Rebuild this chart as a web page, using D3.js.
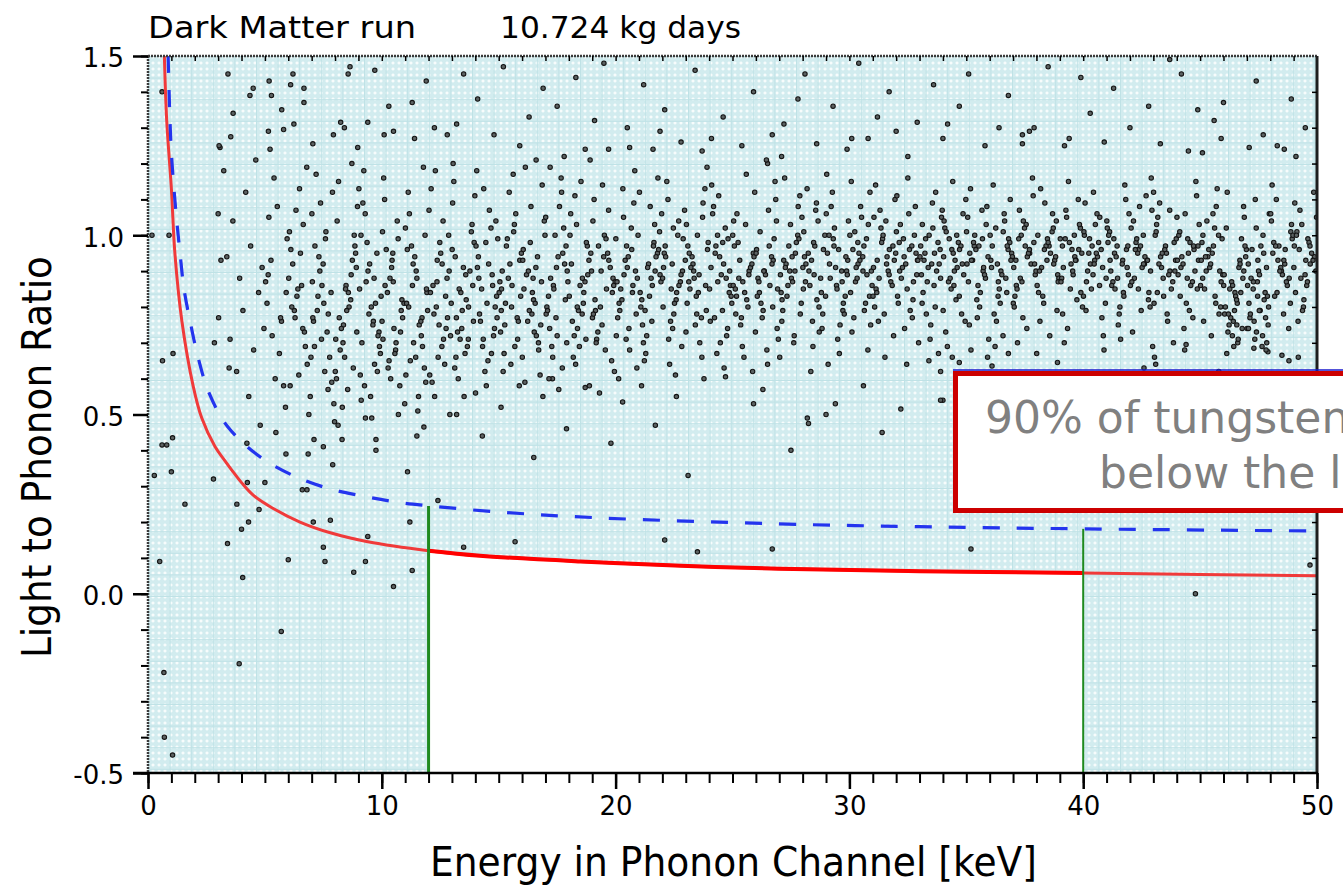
<!DOCTYPE html>
<html>
<head>
<meta charset="utf-8">
<script src="https://cdn.jsdelivr.net/npm/d3@7"></script>
<style>
  body { margin: 0; background: #fff; overflow: hidden; }
  svg text { font-family: "Comic Sans MS", "DejaVu Sans", sans-serif; }
</style>
</head>
<body>
<div id="chart"></div>
<script>
// axis ticks
const xTicks = [0, 10, 20, 30, 40, 50];
const yTicks = [-0.5, 0, 0.5, 1.0, 1.5];
const titleLeft = "Dark Matter run";
const titleRight = "10.724 kg days";
const noteLines = ["90% of tungsten recoils", "below the line"];

// 90% tungsten recoil line (red) and the upper dashed line (blue)
const redCurve = [[0.7,1.5],[0.8,1.32],[1.0,1.13],[1.15,0.95],[1.45,0.76],[1.93,0.58],[2.3,0.49],[2.87,0.41],[3.3,0.37],[3.64,0.34],[4.0,0.31],[4.5,0.275],[5.3,0.24],[6.5,0.2],[7.8,0.17],[9.4,0.145],[12,0.12],[14.2,0.106],[18.5,0.09],[22.8,0.078],[27,0.07],[33,0.063],[40,0.058],[45,0.054],[50,0.05]];
const blueCurve = [[0.86,1.5],[0.94,1.32],[1.0,1.23],[1.11,1.13],[1.23,1.04],[1.37,0.95],[1.54,0.85],[1.8,0.76],[2.14,0.66],[2.61,0.56],[3.42,0.465],[4.79,0.382],[6.2,0.33],[7.65,0.295],[9.15,0.273],[10.6,0.256],[12.06,0.245],[15,0.228],[19.2,0.212],[26.9,0.195],[33,0.187],[40,0.181],[50,0.175]];
// acceptance window (green lines)
const cutEnergies = [12, 40];
const cutTops = [0.245, 0.181];

// events: outliers
const ptsOutside = [[0.27,.33],[0.6,.415],[1.05,.435],[1.0,.34],[1.58,.25],[0.5,.09],[0.62,.65],[1.07,.67],[0.8,.415],[3.4,.14],[4.05,.045],[2.8,.32],[3.8,.25],[4.3,.2],[4.0,.18],[4.25,.31],[4.75,.235],[5.0,.31],[6.0,.095],[7.07,.2],[7.8,.205],[7.5,.13],[7.57,.09],[8.8,.06],[9.3,.09],[9.4,.16],[10.5,.02],[11.3,.065],[11.2,.2],[11.1,.34],[12.4,.26],[0.68,-.22],[0.7,-.4],[1.05,-.45],[3.9,-.195],[5.7,-.105],[13.5,.13],[15.7,.145],[22.1,.15],[23.5,.117],[26.7,.125],[35.2,.125],[44.8,0],[49.7,.08],[5.9,.39],[6.85,.39],[7.5,.41],[7.9,.36],[9.3,.49],[9.75,.43],[11.8,.465],[11.5,.44],[8.3,.43],[7.1,.43],[6.6,.29],[6.8,.29],[9.75,.4],[28.2,.49],[28.25,.475],[29.0,.5],[29.4,.53],[32.2,.515],[34.0,.54],[20.3,.535],[25.9,.53],[26.3,.57],[18.7,.575],[24.7,.605],[17.3,.6],[34.4,.66],[34.7,.645],[36.1,.635],[38.9,.645],[42.6,.63],[36.8,.67],[35.2,.68],[48.5,.665],[48.8,.65],[47.9,.675],[44.4,.695],[47.3,.685],[33.4,.65],[33.9,.62],[33.9,.54],[0.17,1.0],[0.9,1.0],[16.5,.38],[19.8,.42],[23.1,.33],[27.5,.4],[31.4,.45],[14.3,.44],[21.7,.47],[13.2,.5],[15.1,.52],[17.9,.46],[22.6,.55],[30.6,.58],[37.5,.6],[40.6,.61],[43.1,.64],[45.8,.62],[49.2,.66]];
const ptsHigh = [[0.6,1.4],[3.42,1.45],[6.2,1.45],[8.56,1.45],[8.64,1.47],[4.5,1.41],[5.18,1.43],[6.1,1.42],[6.67,1.41],[4.36,1.39],[5.28,1.39],[6.67,1.37],[5.72,1.35],[3.64,1.34],[11.3,1.37],[5.15,1.29],[5.8,1.295],[6.24,1.31],[8.24,1.315],[8.4,1.3],[9.4,1.315],[7.93,1.28],[10.1,1.28],[10.5,1.29],[12.25,1.3],[3.54,1.275],[11.4,1.27],[3.08,1.245],[7.05,1.255],[8.97,1.245],[12.8,1.28],[34.7,1.36],[40.3,1.34],[46.0,1.37],[34.2,1.31],[34.0,1.27],[36.4,1.3],[37.4,1.28],[37.7,1.29],[37.9,1.3],[42.0,1.3],[35.8,1.25],[37.4,1.255],[39.2,1.25],[39.4,1.27],[47.7,1.28],[43.3,1.255],[48.6,1.24],[48.3,1.25],[44.5,1.235],[45.1,1.23],[47.1,1.245],[20.5,1.3],[27.2,1.31],[32.9,1.315],[32.0,1.29],[28.6,1.255],[22.8,1.26],[25.4,1.25],[18.7,1.24],[19.7,1.24],[20.6,1.245],[23.7,1.235],[21.6,1.24],[17.2,1.19],[17.8,1.22],[30.1,1.27],[30.8,1.27],[32.5,1.22],[27.1,1.22],[26.5,1.2],[13.5,1.45],[14.1,1.38],[15.2,1.47],[16.3,1.33],[16.9,1.41],[14.8,1.28],[15.9,1.25],[13.2,1.31],[17.5,1.36],[18.3,1.44],[19.1,1.32],[21.2,1.42],[22.1,1.35],[23.4,1.46],[24.6,1.33],[25.9,1.4],[26.7,1.28],[28.1,1.45],[29.3,1.36],[30.4,1.48],[31.2,1.33],[33.6,1.42],[35.1,1.45],[36.8,1.39],[38.5,1.47],[41.3,1.41],[42.8,1.36],[44.2,1.45],[45.6,1.32],[47.4,1.43],[48.9,1.38],[49.5,1.3],[43.7,1.49],[39.9,1.44],[11.9,1.43],[10.3,1.36],[9.7,1.46],[24.1,1.27],[29.9,1.24],[31.7,1.4],[40.9,1.26],[45.9,1.27],[49.1,1.22],[44.9,1.35],[19.5,1.48],[16.6,1.21],[21.9,1.29],[27.8,1.38]];

// events: main band, by energy range
const pts3to8 = [[3.12,.93],[3.51,.71],[3.63,1.04],[3.79,.62],[3.92,.88],[3.04,1.25],[3.24,1.18],[3.0,1.06],[3.02,.77],[2.84,.7],[3.37,.94],[3.47,.63],
[4.06,.79],[4.18,1.12],[4.31,.55],[4.39,.97],[4.52,.68],[4.61,1.21],[4.73,.84],[4.8,.47],[4.88,.91],[4.96,.74],[4.23,.42],
[5.03,.87],[5.44,.6],[5.17,1.05],[5.71,.76],[5.26,.93],[5.88,.52],[5.39,1.16],[5.09,.81],[5.62,.67],[5.95,.99],[5.31,.72],[5.53,1.08],[5.8,.58],[5.14,.89],[5.67,.77],[5.22,1.24],[5.47,.45],[5.91,.84],
[6.37,.83],[6.81,.64],[6.05,1.01],[6.62,.74],[6.19,.92],[6.94,.55],[6.48,1.13],[6.26,.79],[6.73,.69],[6.11,.96],[6.57,.86],[6.88,.5],[6.33,1.07],[6.69,.73],[6.02,.88],[6.45,.61],[6.79,1.19],[6.15,.8],[6.52,.95],[6.97,.66],[6.29,.77],[6.64,1.03],[6.08,.58],[6.41,.85],
[7.71,.78],[7.14,.97],[7.56,.62],[7.03,.87],[7.89,1.12],[7.42,.71],[7.27,.83],[7.95,.53],[7.61,1.01],[7.08,.76],[7.35,.9],[7.77,.66],[7.19,1.17],[7.52,.81],[7.86,.59],[7.31,.94],[7.66,.73],[7.01,1.06],[7.44,.86],[7.98,.48],[7.24,.79],[7.59,.99],[7.12,.69],[7.83,.84],[7.38,1.09],[7.7,.57],[7.05,.77],[7.49,.92]];
const pts8to12 = [[8.22,.68],[8.67,.82],[8.09,1.04],[8.54,.57],[8.91,.91],[8.36,.75],[8.78,.63],[8.15,1.15],[8.47,.86],[8.03,.71],[8.85,.97],[8.6,.8],[8.31,.52],[8.74,.93],[8.18,.77],[8.96,1.08],[8.41,.66],[8.57,.84],[8.06,.6],[8.82,1.0],[8.27,.74],[8.69,.89],[8.13,.47],[8.5,.79],[8.88,.95],[8.34,.7],[8.72,1.2],[8.01,.62],[8.45,.85],[8.93,.73],
[9.41,.9],[9.08,.61],[9.64,.76],[9.29,1.06],[9.97,.83],[9.52,.55],[9.15,.7],[9.79,.95],[9.45,.78],[9.02,1.13],[9.69,.64],[9.33,.87],[9.88,.73],[9.57,.49],[9.11,1.0],[9.73,.81],[9.26,.58],[9.48,.92],[9.94,.67],[9.19,1.09],[9.62,.75],[9.05,.85],[9.81,.62],[9.37,.98],[9.55,.8],[9.9,.69],[9.23,1.18],[9.67,.88],[9.12,.54],[9.84,.72],
[10.49,.87],[10.05,.71],[10.7,.99],[10.38,.6],[10.83,.79],[10.12,1.1],[10.59,.68],[10.24,.84],[10.98,.53],[10.44,.93],[10.01,.76],[10.66,1.04],[10.31,.65],[10.86,.82],[10.52,.74],[10.19,.96],[10.77,.58],[10.35,.88],[10.08,1.16],[10.61,.7],[10.95,.81],[10.27,.63],[10.42,.91],[10.89,.77],[10.03,1.01],[10.56,.67],[10.14,.86],[10.71,.5],[10.47,.95],[10.8,.73],
[11.93,.84],[11.45,.66],[11.01,1.02],[11.72,.77],[11.34,.92],[11.88,.59],[11.5,.88],[11.13,1.12],[11.69,.72],[11.27,.97],[11.82,.63],[11.06,.81],[11.57,.55],[11.41,.94],[11.96,.79],[11.18,1.06],[11.74,.69],[11.31,.86],[11.6,.75],[11.85,1.0],[11.03,.61],[11.47,.9],[11.15,.8],[11.78,1.19],[11.36,.7],[11.91,.85],[11.54,.51],[11.09,.96],[11.67,.76],[11.22,.65]];
const pts12to20 = [[12.37,.93],[12.81,.77],[12.05,.61],[12.62,1.04],[12.19,.86],[12.94,.72],[12.48,.98],[12.26,.55],[12.73,.83],[12.11,1.13],[12.57,.69],[12.88,.9],[12.33,.8],[12.69,.64],[12.02,1.07],[12.45,.75],[12.79,.88],[12.15,.59],[12.52,.95],[12.97,.81],[12.29,1.18],[12.64,.71],[12.08,.84],[12.41,.66],[12.86,1.0],[12.23,.78],[12.58,.92],[12.91,.5],[12.36,.87],[12.75,.74],
[13.71,.8],[13.14,.94],[13.56,.67],[13.03,1.09],[13.89,.86],[13.42,.74],[13.27,.6],[13.95,.98],[13.61,.82],[13.08,1.15],[13.35,.71],[13.77,.9],[13.19,.77],[13.52,.55],[13.86,1.03],[13.31,.85],[13.66,.69],[13.01,.96],[13.44,.79],[13.98,1.11],[13.24,.73],[13.59,.89],[13.12,.63],[13.83,1.01],[13.38,.84],[13.7,.71],[13.05,1.2],[13.49,.91],[13.92,.76],[13.17,.66],
[14.22,.76],[14.67,1.02],[14.09,.91],[14.54,.65],[14.91,.83],[14.36,1.13],[14.78,.72],[14.15,.88],[14.47,.58],[14.03,.97],[14.85,.8],[14.6,1.07],[14.31,.69],[14.74,.86],[14.18,.78],[14.96,.99],[14.41,.62],[14.57,.92],[14.06,1.18],[14.82,.74],[14.27,.85],[14.69,.67],[14.13,.94],[14.5,.81],[14.88,1.04],[14.34,.71],[14.72,.89],[14.01,.56],[14.45,.98],[14.93,.77],
[15.41,.88],[15.08,.73],[15.64,1.01],[15.29,.81],[15.97,.95],[15.52,.64],[15.15,.9],[15.79,.77],[15.45,1.12],[15.02,.84],[15.69,.69],[15.33,.97],[15.88,.58],[15.57,.86],[15.11,.79],[15.73,1.06],[15.26,.75],[15.48,.92],[15.94,.83],[15.19,.62],[15.62,1.17],[15.05,.87],[15.81,.71],[15.37,.99],[15.55,.8],[15.9,.93],[15.23,.67],[15.67,1.03],[15.12,.85],[15.84,.76],
[16.49,.82],[16.05,.96],[16.7,.7],[16.38,1.08],[16.83,.87],[16.12,.59],[16.59,.91],[16.24,.76],[16.98,1.0],[16.44,.84],[16.01,.66],[16.66,.94],[16.31,.79],[16.86,1.14],[16.52,.73],[16.19,.89],[16.77,.61],[16.35,.98],[16.08,.85],[16.61,.72],[16.95,1.04],[16.27,.9],[16.42,.78],[16.89,.55],[16.03,.93],[16.56,.81],[16.14,1.19],[16.71,.68],[16.47,.88],[16.8,.75],
[17.93,.9],[17.45,.77],[17.01,1.05],[17.72,.63],[17.34,.86],[17.88,.97],[17.5,.72],[17.13,.83],[17.69,1.12],[17.27,.69],[17.82,.92],[17.06,.8],[17.57,.57],[17.41,1.0],[17.96,.87],[17.18,.74],[17.74,.95],[17.31,.66],[17.6,1.08],[17.85,.82],[17.03,.78],[17.47,.91],[17.15,.6],[17.78,1.02],[17.36,.85],[17.91,.7],[17.54,.94],[17.09,.79],[17.67,1.16],[17.22,.88],
[18.37,.74],[18.81,.89],[18.05,1.0],[18.62,.81],[18.19,.66],[18.94,.95],[18.48,.86],[18.26,1.11],[18.73,.71],[18.11,.92],[18.57,.78],[18.88,.58],[18.33,1.03],[18.69,.87],[18.02,.83],[18.45,.69],[18.79,.97],[18.15,.76],[18.52,1.15],[18.97,.9],[18.29,.64],[18.64,.84],[18.08,1.06],[18.41,.79],[18.86,.93],[18.23,.72],[18.58,.88],[18.91,1.21],[18.36,.8],[18.75,.98],
[19.71,.93],[19.14,.79],[19.56,.68],[19.03,1.04],[19.89,.88],[19.42,.75],[19.27,.97],[19.95,.62],[19.61,.85],[19.08,1.1],[19.35,.8],[19.77,.91],[19.19,.71],[19.52,1.0],[19.86,.84],[19.31,.56],[19.66,.95],[19.01,.77],[19.44,1.14],[19.98,.87],[19.24,.73],[19.59,.99],[19.12,.82],[19.83,.65],[19.38,.9],[19.7,1.07],[19.05,.78],[19.49,.94],[19.92,.86],[19.17,.7]];
const pts20to30 = [[20.22,.85],[20.67,1.02],[20.09,.77],[20.54,.94],[20.91,.63],[20.36,.89],[20.78,1.09],[20.15,.81],[20.47,.97],[20.03,.72],[20.85,.9],[20.6,.68],[20.31,1.13],[20.74,.86],[20.18,.79],[20.96,1.0],[20.41,.93],[20.57,.74],[20.06,.87],[20.82,1.18],[20.27,.82],[20.69,.96],[20.13,.6],[20.5,.91],[20.88,.78],[20.34,1.05],[20.72,.84],[20.01,.99],[20.45,.71],[20.93,.88],
[21.41,.92],[21.08,.8],[21.64,.98],[21.29,.67],[21.97,1.06],[21.52,.88],[21.15,.75],[21.79,.95],[21.45,.83],[21.02,1.12],[21.69,.9],[21.33,.72],[21.88,1.01],[21.57,.86],[21.11,.58],[21.73,.94],[21.26,.79],[21.48,1.08],[21.94,.87],[21.19,.7],[21.62,.97],[21.05,.84],[21.81,1.16],[21.37,.91],[21.55,.76],[21.9,.89],[21.23,.65],[21.67,1.03],[21.12,.82],[21.84,.96],
[22.49,.78],[22.05,.91],[22.7,1.04],[22.38,.85],[22.83,.69],[22.12,.97],[22.59,.82],[22.24,1.1],[22.98,.93],[22.44,.74],[22.01,.88],[22.66,1.0],[22.31,.64],[22.86,.9],[22.52,.81],[22.19,1.15],[22.77,.87],[22.35,.76],[22.08,.95],[22.61,.84],[22.95,1.07],[22.27,.71],[22.42,.92],[22.89,.99],[22.03,.8],[22.56,.61],[22.14,.94],[22.71,.86],[22.47,1.02],[22.8,.89],
[23.93,.96],[23.45,.83],[23.01,.73],[23.72,1.05],[23.34,.9],[23.88,.79],[23.5,1.0],[23.13,.87],[23.69,.66],[23.27,.94],[23.82,1.13],[23.06,.81],[23.57,.89],[23.41,.75],[23.96,.98],[23.18,.85],[23.74,1.09],[23.31,.92],[23.6,.7],[23.85,.86],[23.03,1.03],[23.47,.78],[23.15,.95],[23.78,.6],[23.36,.88],[23.91,1.19],[23.54,.84],[23.09,.97],[23.67,.77],[23.22,.91],
[24.37,.87],[24.81,.99],[24.05,.76],[24.62,.92],[24.19,1.08],[24.94,.83],[24.48,.7],[24.26,.95],[24.73,.88],[24.11,1.14],[24.57,.79],[24.88,.9],[24.33,.67],[24.69,1.02],[24.02,.85],[24.45,.94],[24.79,.74],[24.15,1.06],[24.52,.89],[24.97,.81],[24.29,.97],[24.64,.63],[24.08,.91],[24.41,1.11],[24.86,.84],[24.23,.77],[24.58,.98],[24.91,.86],[24.36,1.0],[24.75,.72],
[25.71,.9],[25.14,.78],[25.56,1.03],[25.03,.86],[25.89,.95],[25.42,.69],[25.27,.88],[25.95,1.12],[25.61,.82],[25.08,.97],[25.35,.75],[25.77,.91],[25.19,1.06],[25.52,.84],[25.86,.62],[25.31,.93],[25.66,.8],[25.01,1.0],[25.44,.87],[25.98,.73],[25.24,.98],[25.59,1.17],[25.12,.85],[25.83,.92],[25.38,.77],[25.7,.89],[25.05,1.04],[25.49,.66],[25.92,.94],[25.17,.83],
[26.22,.81],[26.67,.94],[26.09,.88],[26.54,1.07],[26.91,.74],[26.36,.9],[26.78,.99],[26.15,.84],[26.47,.68],[26.03,.96],[26.85,1.1],[26.6,.86],[26.31,.79],[26.74,.93],[26.18,1.01],[26.96,.71],[26.41,.89],[26.57,.97],[26.06,.83],[26.82,1.15],[26.27,.77],[26.69,.92],[26.13,.87],[26.5,.64],[26.88,1.04],[26.34,.9],[26.72,.8],[26.01,.95],[26.45,1.21],[26.93,.85],
[27.41,.97],[27.08,.84],[27.64,.72],[27.29,.92],[27.97,1.05],[27.52,.88],[27.15,.79],[27.79,1.0],[27.45,.9],[27.02,.66],[27.69,.95],[27.33,.83],[27.88,1.11],[27.57,.87],[27.11,.76],[27.73,.98],[27.26,.91],[27.48,1.03],[27.94,.81],[27.19,.93],[27.62,.7],[27.05,.89],[27.81,1.08],[27.37,.86],[27.55,.94],[27.9,.78],[27.23,1.16],[27.67,.9],[27.12,.82],[27.84,.99],
[28.49,.89],[28.05,1.01],[28.7,.8],[28.38,.93],[28.83,.74],[28.12,.87],[28.59,1.09],[28.24,.95],[28.98,.83],[28.44,.69],[28.01,.91],[28.66,1.04],[28.31,.86],[28.86,.78],[28.52,.97],[28.19,1.13],[28.77,.88],[28.35,.62],[28.08,.94],[28.61,.82],[28.95,1.0],[28.27,.9],[28.42,.76],[28.89,.96],[28.03,.85],[28.56,1.07],[28.14,.92],[28.71,.73],[28.47,.98],[28.8,.84],
[29.93,.93],[29.45,.86],[29.01,1.06],[29.72,.79],[29.34,.97],[29.88,.9],[29.5,.71],[29.13,1.0],[29.69,.87],[29.27,1.12],[29.82,.83],[29.06,.95],[29.57,.67],[29.41,.91],[29.96,1.04],[29.18,.88],[29.74,.81],[29.31,.99],[29.6,.75],[29.85,.94],[29.03,1.17],[29.47,.85],[29.15,.92],[29.78,.78],[29.36,1.02],[29.91,.89],[29.54,.96],[29.09,.64],[29.67,.9],[29.22,1.08]];
const pts30to40 = [[30.37,.92],[30.81,1.03],[30.05,.84],[30.62,.97],[30.19,.77],[30.94,.9],[30.48,1.08],[30.26,.87],[30.73,.99],[30.11,.73],[30.57,.94],[30.88,1.12],[30.33,.88],[30.69,.81],[30.02,1.0],[30.45,.93],[30.79,.68],[30.15,.96],[30.52,1.05],[30.97,.86],[30.29,.91],[30.64,.79],[30.08,1.15],[30.41,.95],[30.86,.83],[30.23,1.01],[30.58,.9],[30.91,.75],[30.36,.98],[30.75,.89],
[31.71,.96],[31.14,.85],[31.56,1.04],[31.03,.91],[31.89,.72],[31.42,.99],[31.27,.88],[31.95,1.1],[31.61,.94],[31.08,.8],[31.35,1.02],[31.77,.87],[31.19,.93],[31.52,.66],[31.86,.97],[31.31,1.07],[31.66,.9],[31.01,.83],[31.44,1.0],[31.98,.95],[31.24,.76],[31.59,.92],[31.12,1.14],[31.83,.86],[31.38,.98],[31.7,.89],[31.05,1.05],[31.49,.78],[31.92,.93],[31.17,.84],
[32.22,.88],[32.67,.97],[32.09,.81],[32.54,1.06],[32.91,.93],[32.36,.74],[32.78,1.0],[32.15,.9],[32.47,.85],[32.03,1.11],[32.85,.95],[32.6,.79],[32.31,.99],[32.74,.87],[32.18,1.03],[32.96,.7],[32.41,.92],[32.57,.96],[32.06,.83],[32.82,1.08],[32.27,.91],[32.69,.77],[32.13,.98],[32.5,1.16],[32.88,.89],[32.34,.94],[32.72,.82],[32.01,1.01],[32.45,.64],[32.93,.93],
[33.41,1.0],[33.08,.89],[33.64,.95],[33.29,.78],[33.97,1.07],[33.52,.92],[33.15,.84],[33.79,.98],[33.45,.71],[33.02,.94],[33.69,1.12],[33.33,.87],[33.88,.96],[33.57,1.02],[33.11,.81],[33.73,.9],[33.26,.99],[33.48,.75],[33.94,1.05],[33.19,.93],[33.62,.86],[33.05,.97],[33.81,.67],[33.37,.91],[33.55,1.09],[33.9,.88],[33.23,.95],[33.67,.8],[33.12,1.03],[33.84,.92],
[34.49,.9],[34.05,1.04],[34.7,.83],[34.38,.96],[34.83,.92],[34.12,.73],[34.59,1.0],[34.24,.87],[34.98,1.1],[34.44,.95],[34.01,.79],[34.66,.98],[34.31,.88],[34.86,1.06],[34.52,.93],[34.19,.69],[34.77,.97],[34.35,.85],[34.08,1.02],[34.61,.91],[34.95,.76],[34.27,.99],[34.42,1.15],[34.89,.89],[34.03,.94],[34.56,.82],[34.14,1.01],[34.71,.96],[34.47,.86],[34.8,.78],
[35.93,.94],[35.45,.82],[35.01,1.01],[35.72,.9],[35.34,.97],[35.88,1.08],[35.5,.86],[35.13,.75],[35.69,.99],[35.27,.93],[35.82,.88],[35.06,1.05],[35.57,.8],[35.41,.96],[35.96,.71],[35.18,1.13],[35.74,.91],[35.31,.98],[35.6,.84],[35.85,1.03],[35.03,.92],[35.47,.77],[35.15,.95],[35.78,.89],[35.36,1.0],[35.91,.66],[35.54,.97],[35.09,.87],[35.67,1.07],[35.22,.93],
[36.37,.87],[36.81,.99],[36.05,.93],[36.62,1.06],[36.19,.78],[36.94,.95],[36.48,.9],[36.26,1.02],[36.73,.84],[36.11,.97],[36.57,.72],[36.88,1.1],[36.33,.92],[36.69,.88],[36.02,1.0],[36.45,.81],[36.79,.96],[36.15,1.14],[36.52,.89],[36.97,.94],[36.29,.76],[36.64,1.04],[36.08,.91],[36.41,.85],[36.86,.98],[36.23,.69],[36.58,1.01],[36.91,.93],[36.36,.83],[36.75,.97],
[37.71,.95],[37.14,.86],[37.56,1.03],[37.03,.91],[37.89,.98],[37.42,.77],[37.27,1.07],[37.95,.89],[37.61,.94],[37.08,.83],[37.35,1.0],[37.77,.92],[37.19,.7],[37.52,.97],[37.86,1.11],[37.31,.88],[37.66,.95],[37.01,.81],[37.44,1.04],[37.98,.9],[37.24,.99],[37.59,.74],[37.12,.93],[37.83,1.16],[37.38,.87],[37.7,.96],[37.05,.8],[37.49,1.02],[37.92,.92],[37.17,.85],
[38.22,.91],[38.67,1.01],[38.09,.84],[38.54,.97],[38.91,.89],[38.36,1.09],[38.78,.93],[38.15,.76],[38.47,.99],[38.03,.86],[38.85,1.04],[38.6,.95],[38.31,.81],[38.74,.92],[38.18,1.13],[38.96,.88],[38.41,.97],[38.57,.72],[38.06,1.0],[38.82,.94],[38.27,.83],[38.69,1.06],[38.13,.9],[38.5,.98],[38.88,.79],[38.34,.96],[38.72,1.02],[38.01,.67],[38.45,.93],[38.93,.87],
[39.41,.98],[39.08,.88],[39.64,.94],[39.29,1.05],[39.97,.8],[39.52,.96],[39.15,.91],[39.79,1.1],[39.45,.85],[39.02,.99],[39.69,.93],[39.33,.74],[39.88,1.02],[39.57,.89],[39.11,.97],[39.73,.82],[39.26,1.07],[39.48,.92],[39.94,.95],[39.19,.7],[39.62,1.0],[39.05,.87],[39.81,.96],[39.37,1.15],[39.55,.9],[39.9,.84],[39.23,.99],[39.67,.93],[39.12,.78],[39.84,1.03]];
const pts40to50 = [[40.49,.93],[40.05,1.0],[40.7,.86],[40.38,.97],[40.83,.91],[40.12,.79],[40.59,1.06],[40.24,.95],[40.98,.88],[40.44,1.12],[40.01,.83],[40.66,.98],[40.31,.92],[40.86,.72],[40.52,1.03],[40.19,.9],[40.77,.96],[40.35,.85],[40.08,1.09],[40.61,.94],[40.95,.81],[40.27,.99],[40.42,.89],[40.89,.68],[40.03,1.01],[40.56,.95],[40.14,.87],[40.71,1.05],[40.47,.92],[40.8,.77],
[41.93,.89],[41.45,.97],[41.01,1.04],[41.72,.84],[41.34,.95],[41.88,.91],[41.5,.75],[41.13,1.01],[41.69,.93],[41.27,.87],[41.82,1.1],[41.06,.98],[41.57,.8],[41.41,.94],[41.96,1.06],[41.18,.9],[41.74,.83],[41.31,.99],[41.6,.71],[41.85,.96],[41.03,1.02],[41.47,.88],[41.15,.93],[41.78,1.14],[41.36,.85],[41.91,.97],[41.54,.78],[41.09,1.0],[41.67,.92],[41.22,.86],
[42.37,.96],[42.81,.84],[42.05,1.02],[42.62,.92],[42.19,.88],[42.94,1.07],[42.48,.79],[42.26,.98],[42.73,.93],[42.11,.73],[42.57,1.0],[42.88,.9],[42.33,.95],[42.69,1.11],[42.02,.86],[42.45,.97],[42.79,.82],[42.15,1.04],[42.52,.91],[42.97,.69],[42.29,.99],[42.64,.94],[42.08,.87],[42.41,1.08],[42.86,.8],[42.23,.96],[42.58,.92],[42.91,1.16],[42.36,.85],[42.75,.93],
[43.71,.9],[43.14,1.03],[43.56,.95],[43.03,.81],[43.89,.98],[43.42,.88],[43.27,1.09],[43.95,.93],[43.61,.76],[43.08,1.0],[43.35,.91],[43.77,.85],[43.19,1.05],[43.52,.97],[43.86,.7],[43.31,.94],[43.66,.89],[43.01,1.12],[43.44,.83],[43.98,.99],[43.24,.92],[43.59,.78],[43.12,1.01],[43.83,.87],[43.38,.95],[43.7,1.07],[43.05,.66],[43.49,.96],[43.92,.9],[43.17,.84],
[44.22,.94],[44.67,.87],[44.09,1.0],[44.54,.79],[44.91,.97],[44.36,1.06],[44.78,.9],[44.15,.83],[44.47,.99],[44.03,.93],[44.85,1.11],[44.6,.86],[44.31,.74],[44.74,.96],[44.18,.91],[44.96,1.03],[44.41,.81],[44.57,.98],[44.06,.89],[44.82,1.15],[44.27,.92],[44.69,.77],[44.13,1.01],[44.5,.95],[44.88,.85],[44.34,.68],[44.72,.97],[44.01,1.05],[44.45,.88],[44.93,.93],
[45.41,.91],[45.08,.98],[45.64,.83],[45.29,1.04],[45.97,.89],[45.52,.95],[45.15,.76],[45.79,1.0],[45.45,.92],[45.02,.86],[45.69,1.08],[45.33,.94],[45.88,.8],[45.57,.97],[45.11,.88],[45.73,1.13],[45.26,.9],[45.48,.72],[45.94,.99],[45.19,.85],[45.62,1.02],[45.05,.93],[45.81,.78],[45.37,.96],[45.55,1.06],[45.9,.87],[45.23,.94],[45.67,.81],[45.12,1.0],[45.84,.9],
[46.49,.84],[46.05,.78],[46.7,.93],[46.38,.72],[46.83,.88],[46.12,1.02],[46.59,.81],[46.24,.75],[46.98,.96],[46.44,.69],[46.01,.86],[46.66,.91],[46.31,.77],[46.86,1.08],[46.52,.83],[46.19,.73],[46.77,.99],[46.35,.87],[46.08,.8],[46.61,.7],[46.95,.94],[46.27,.85],[46.42,.76],[46.89,1.05],[46.03,.89],[46.56,.82],[46.14,.67],[46.71,.92],[46.47,.79],[46.8,.74],[46.16,1.12],[46.39,.86],[46.63,.71],[46.87,.9],[46.21,.78],[46.74,.84],[46.92,.97],[46.57,.75],
[47.93,.8],[47.45,.87],[47.01,.74],[47.72,.95],[47.34,.71],[47.88,.83],[47.5,.9],[47.13,.77],[47.69,1.0],[47.27,.85],[47.82,.68],[47.06,.92],[47.57,.79],[47.41,.73],[47.96,1.06],[47.18,.88],[47.74,.82],[47.31,.76],[47.6,.97],[47.85,.7],[47.03,.86],[47.47,.93],[47.15,.78],[47.78,.84],[47.36,1.1],[47.91,.75],[47.54,.89],[47.09,.81],[47.67,.72],[47.22,.96],[47.28,.87],[47.53,.79],[47.07,.74],[47.84,.91],[47.46,.83],[47.65,.69],[47.4,1.02],[47.8,.77],
[48.37,.97],[48.81,.88],[48.05,1.04],[48.62,.92],[48.19,.83],[48.94,.99],[48.48,.9],[48.26,1.1],[48.73,.86],[48.11,.95],[48.57,.78],[48.88,1.01],[48.33,.93],[48.69,.87],[48.02,1.06],[48.45,.91],[48.79,.74],[48.15,.98],[48.52,.89],[48.97,1.0],[48.29,.84],[48.64,.96],[48.08,1.14],[48.41,.9],[48.86,.81],[48.23,.97],[48.58,.93],[48.91,1.03],
[49.71,.92],[49.14,1.01],[49.56,.86],[49.03,.97],[49.89,.94],[49.42,.8],[49.27,1.07],[49.95,.9],[49.61,.99],[49.08,.84],[49.35,1.03],[49.77,.95],[49.19,.76],[49.52,.93],[49.86,1.12],[49.31,.88],[49.66,.98],[49.01,.91],[49.44,.82],[49.98,1.05],[49.24,.96],[49.59,.87],[49.12,1.0],[49.83,.93],[49.38,.79],[49.7,.97],[49.05,1.09],[49.49,.89]];

const W = 1343, H = 892;
const x = d3.scaleLinear().domain([0, 50]).range([148, 1317]);
const y = d3.scaleLinear().domain([-0.5, 1.5]).range([773, 56]);
const [x0, x1] = x.range(), [y0, y1] = y.range();

const svg = d3.select("#chart").append("svg").attr("width", W).attr("height", H);
const defs = svg.append("defs");

// graph paper look of the plot area
const hatch = defs.append("pattern").attr("id", "hatch")
  .attr("patternUnits", "userSpaceOnUse").attr("width", 6).attr("height", 6);
hatch.append("rect").attr("width", 6).attr("height", 6).attr("fill", "#d2ecef");
hatch.append("path").attr("d", "M3,1.5v3M1.5,3h3")
  .attr("stroke", "#fff").attr("stroke-width", 1.3).attr("opacity", 0.9);
const grid = defs.append("pattern").attr("id", "grid")
  .attr("patternUnits", "userSpaceOnUse").attr("width", 21.6).attr("height", 21.6)
  .attr("x", x0).attr("y", y1);
grid.append("path").attr("d", "M0,0.5H21.6M0.5,0V21.6")
  .attr("stroke", "#bfe2e6").attr("stroke-width", 1).attr("fill", "none");

defs.append("clipPath").attr("id", "plot").append("rect")
  .attr("x", x0).attr("y", y1).attr("width", x1 - x0).attr("height", y0 - y1);

const plot = svg.append("g").attr("clip-path", "url(#plot)");
plot.append("rect").attr("x", x0).attr("y", y1).attr("width", x1 - x0).attr("height", y0 - y1).attr("fill", "url(#hatch)");
plot.append("rect").attr("x", x0).attr("y", y1).attr("width", x1 - x0).attr("height", y0 - y1).attr("fill", "url(#grid)");

const smooth = d3.curveCatmullRom.alpha(0.5);

// white acceptance region under the red line between the two cuts
const inWindow = redCurve.filter(d => d[0] >= cutEnergies[0] && d[0] <= cutEnergies[1]);
plot.append("path").datum(inWindow)
  .attr("fill", "#fff")
  .attr("d", d3.area().x(d => x(d[0])).y0(y(-0.5)).y1(d => y(d[1])).curve(smooth));

// events
const events = [].concat(ptsOutside, ptsHigh, pts3to8, pts8to12, pts12to20, pts20to30, pts30to40, pts40to50);
plot.append("g").selectAll("circle").data(events).enter().append("circle")
  .attr("cx", d => x(d[0])).attr("cy", d => y(d[1])).attr("r", 2.2)
  .attr("fill", "#5c6262").attr("stroke", "#141414").attr("stroke-width", 1.1);

const line = d3.line().x(d => x(d[0])).y(d => y(d[1])).curve(smooth);

plot.append("path").datum(redCurve).attr("d", line)
  .attr("fill", "none").attr("stroke", "#f03a3a").attr("stroke-width", 3);
plot.append("path").datum(inWindow).attr("d", line)
  .attr("fill", "none").attr("stroke", "#ff0000").attr("stroke-width", 4);

plot.append("path").datum(blueCurve).attr("d", line)
  .attr("fill", "none").attr("stroke", "#2334ee").attr("stroke-width", 3.2)
  .attr("stroke-dasharray", "17,17");

// green cut lines
plot.selectAll(".cut").data(cutEnergies).enter().append("line")
  .attr("class", "cut")
  .attr("x1", d => x(d)).attr("x2", d => x(d))
  .attr("y1", (d, i) => y(cutTops[i])).attr("y2", y(-0.5))
  .attr("stroke", "#1f8a1f").attr("stroke-width", (d, i) => i === 0 ? 3 : 2);

// frame
svg.append("line").attr("x1", x0).attr("x2", x0).attr("y1", y1).attr("y2", y0)
  .attr("stroke", "#3a3a3a").attr("stroke-width", 2.5).attr("stroke-dasharray", "2,1");
svg.append("line").attr("x1", x0).attr("x2", x1).attr("y1", y1).attr("y2", y1)
  .attr("stroke", "#3a3a3a").attr("stroke-width", 2.5).attr("stroke-dasharray", "2,1");
svg.append("line").attr("x1", x1).attr("x2", x1).attr("y1", y1).attr("y2", y0)
  .attr("stroke", "#1e1e1e").attr("stroke-width", 3);

function styleAxis(g, w) {
  g.select(".domain").remove();
  g.selectAll(".tick line").attr("stroke", "#000").attr("stroke-width", w);
}

// bottom axis: minor + major ticks, labels
svg.append("g").attr("transform", `translate(0,${y0})`)
  .call(d3.axisBottom(x).tickValues(d3.range(0, 51, 1)).tickSize(10).tickFormat(""))
  .call(g => styleAxis(g, 2));
const xAxis = svg.append("g").attr("transform", `translate(0,${y0})`)
  .call(d3.axisBottom(x).tickValues(xTicks).tickSize(16).tickPadding(8).tickFormat(d => String(d)))
  .call(g => styleAxis(g, 2.5));
xAxis.selectAll("text").attr("font-size", 26).attr("fill", "#000");
svg.append("line").attr("x1", x0 - 15).attr("x2", x1 + 1).attr("y1", y0).attr("y2", y0)
  .attr("stroke", "#000").attr("stroke-width", 2.5);

// left axis
svg.append("g").attr("transform", `translate(${x0},0)`)
  .call(d3.axisLeft(y).tickValues(d3.range(-5, 16, 1).map(v => v / 10)).tickSize(7).tickFormat(""))
  .call(g => styleAxis(g, 2));
const yAxis = svg.append("g").attr("transform", `translate(${x0},0)`)
  .call(d3.axisLeft(y).tickValues(yTicks).tickSize(15).tickPadding(9).tickFormat(d => d.toFixed(1)))
  .call(g => styleAxis(g, 2.5));
yAxis.selectAll("text").attr("font-size", 26).attr("fill", "#000").attr("dy", "0.42em");

// small inner ticks on top and right edges
svg.append("g").attr("transform", `translate(0,${y1})`)
  .call(d3.axisTop(x).tickValues(d3.range(1, 50, 1)).tickSize(-5).tickFormat(""))
  .call(g => styleAxis(g, 1.5));
svg.append("g").attr("transform", `translate(${x1},0)`)
  .call(d3.axisRight(y).tickValues(d3.range(-4, 15, 1).map(v => v / 10)).tickSize(-5).tickFormat(""))
  .call(g => styleAxis(g, 1.5));

// titles
svg.append("text").attr("x", 148).attr("y", 38).attr("font-size", 31)
  .attr("textLength", 268).attr("lengthAdjust", "spacingAndGlyphs").text(titleLeft);
svg.append("text").attr("x", 500).attr("y", 38).attr("font-size", 31)
  .attr("textLength", 241).attr("lengthAdjust", "spacingAndGlyphs").text(titleRight);
svg.append("text").attr("x", 430).attr("y", 876).attr("font-size", 41)
  .attr("textLength", 607).attr("lengthAdjust", "spacingAndGlyphs").text("Energy in Phonon Channel [keV]");
svg.append("text").attr("transform", "translate(51,457) rotate(-90)")
  .attr("text-anchor", "middle").attr("font-size", 41)
  .attr("textLength", 402).attr("lengthAdjust", "spacingAndGlyphs").text("Light to Phonon Ratio");

// annotation box, which runs off the right edge in the original slide
const note = svg.append("g");
note.append("line").attr("x1", 953).attr("x2", W).attr("y1", 370).attr("y2", 370)
  .attr("stroke", "#1a1acc").attr("stroke-width", 1.5);
note.append("rect").attr("x", 955.5).attr("y", 373.5).attr("width", 620).attr("height", 137)
  .attr("fill", "#fff").attr("stroke", "#cc0000").attr("stroke-width", 5);
note.selectAll(".note").data(noteLines).enter().append("text")
  .attr("class", "note")
  .attr("x", (d, i) => i === 0 ? 985 : 1099)
  .attr("y", (d, i) => i === 0 ? 433 : 488)
  .attr("font-size", 44).attr("fill", "#808080")
  .text(d => d);
</script>
</body>
</html>
